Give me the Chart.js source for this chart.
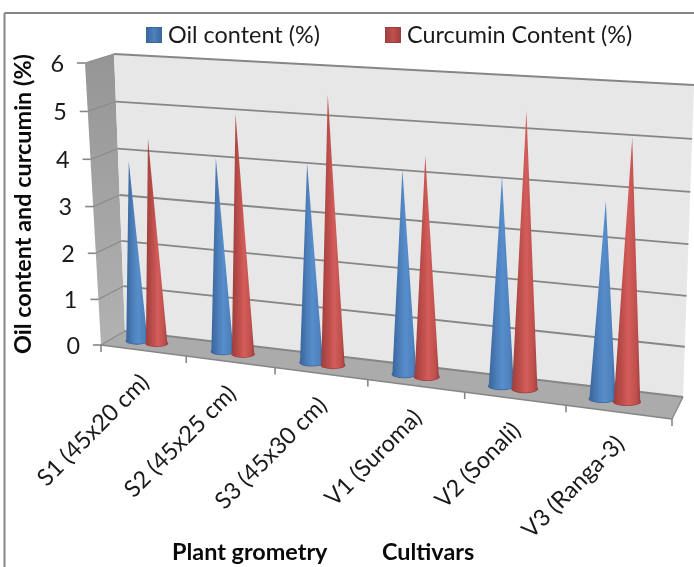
<!DOCTYPE html>
<html>
<head>
<meta charset="utf-8">
<style>html,body{margin:0;padding:0;background:#fff}canvas{display:block}</style>
<script src="https://cdn.jsdelivr.net/npm/chart.js@4"></script>
</head>
<body>
<canvas id="c" width="694" height="567"></canvas>
<script>
const categories = ["S1 (45x20 cm)","S2 (45x25 cm)","S3 (45x30 cm)","V1 (Suroma)","V2 (Sonali)","V3 (Ranga-3)"];
const oilContent = [3.88,4.1,4.14,4.16,4.17,3.87];
const curcuminContent = [4.4,5.04,5.54,4.47,5.47,5.1];
const seriesNames = ["Oil content (%)","Curcumin Content (%)"];
const seriesColors = ["#4F81BD","#C0504D"];
const yTitle = "Oil content and curcumin (%)";
const xTitleParts = ["Plant grometry","Cultivars"];

const FONT = "Lato, Carlito, Calibri, sans-serif";
// corners of the two planes of the box: top-left, top-right, bottom-right, bottom-left
const frontQuad = [[85,63],[678,99],[672,419],[101,345]];
const backQuad  = [[114,54],[694,85],[683,397],[125,331]];
const coneDepth = 0.5;
const coneShift = -0.016;
const coneFatness = 1.08;

function homography(q){
  const [x0,y0]=q[0],[x1,y1]=q[1],[x2,y2]=q[2],[x3,y3]=q[3];
  const dx1=x1-x2,dx2=x3-x2,sx=x0-x1+x2-x3,dy1=y1-y2,dy2=y3-y2,sy=y0-y1+y2-y3;
  const den=dx1*dy2-dx2*dy1;
  const g=(sx*dy2-dx2*sy)/den,h=(dx1*sy-sx*dy1)/den;
  const a=x1-x0+g*x1,b=x3-x0+h*x3,d=y1-y0+g*y1,e=y3-y0+h*y3;
  return (u,v)=>{const w=g*u+h*v+1;return [(a*u+b*v+x0)/w,(d*u+e*v+y0)/w];};
}
function planeAt(t){
  return homography(frontQuad.map((p,i)=>[p[0]+(backQuad[i][0]-p[0])*t,p[1]+(backQuad[i][1]-p[1])*t]));
}
const Hf=planeAt(0),Hb=planeAt(1),Hm=planeAt(coneDepth);
function norm(area,px,py){return [(px-area.left)/(area.right-area.left),(py-area.top)/(area.bottom-area.top)];}
function poly(ctx,pts,fill,stroke,lw){
  ctx.beginPath();pts.forEach((p,i)=>i?ctx.lineTo(p[0],p[1]):ctx.moveTo(p[0],p[1]));ctx.closePath();
  if(fill){ctx.fillStyle=fill;ctx.fill();}
  if(stroke){ctx.strokeStyle=stroke;ctx.lineWidth=lw||1;ctx.stroke();}
}
function line(ctx,a,b,c,lw){ctx.beginPath();ctx.moveTo(a[0],a[1]);ctx.lineTo(b[0],b[1]);ctx.strokeStyle=c;ctx.lineWidth=lw;ctx.stroke();}
function vgrad(ctx,y0,y1,c0,c1){const g=ctx.createLinearGradient(0,y0,0,y1);g.addColorStop(0,c0);g.addColorStop(1,c1);return g;}

function drawBox(chart){
  const ctx=chart.ctx,a=chart.chartArea,ys=chart.scales.y,xs=chart.scales.x;
  ctx.save();
  // outer chart frame
  line(ctx,[4.5,13],[694,13],"#868686",2);
  line(ctx,[4.5,13],[4.5,567],"#868686",2);
  // walls and floor
  poly(ctx,[Hf(0,0),Hb(0,0),Hb(0,1),Hf(0,1)],vgrad(ctx,54,345,"#959595","#B2B2B2"));
  poly(ctx,[Hb(0,0),Hb(1,0),Hb(1,1),Hb(0,1)],"#E7E7E7");
  poly(ctx,[Hf(0,1),Hb(0,1),Hb(1,1),Hf(1,1)],"#ABABAB");
  // gridlines and value ticks
  ys.ticks.forEach((tk,i)=>{
    const v=norm(a,a.left,ys.getPixelForTick(i))[1];
    const f=Hf(0,v),b=Hb(0,v),r=Hb(1,v);
    line(ctx,f,b,"#8C8C8C",1.3);
    line(ctx,b,r,"#868686",1.8);
    line(ctx,[f[0]-8,f[1]],f,"#868686",1.6);
    ctx.font="23.4px "+FONT;ctx.fillStyle="#1A1A1A";ctx.textAlign="right";ctx.textBaseline="middle";
    ctx.fillText(tk.label,f[0]-21,f[1]+1);
  });
  line(ctx,Hf(0,1),Hf(1,1),"#868686",1.6);
  line(ctx,Hf(1,1),Hb(1,1),"#868686",1.3);
  // category ticks and labels
  for(let i=0;i<=categories.length;i++){
    const p=Hf(i/categories.length,1);
    line(ctx,p,[p[0],p[1]+7],"#868686",1.6);
  }
  ctx.font="23.4px "+FONT;ctx.fillStyle="#1A1A1A";ctx.textAlign="right";ctx.textBaseline="middle";
  categories.forEach((c,i)=>{
    const n=norm(a,xs.getPixelForTick(i),a.bottom);
    const p=Hf(n[0],1);
    ctx.save();ctx.translate(p[0]+2,p[1]+28);ctx.rotate(-Math.PI/4);ctx.fillText(xs.getLabelForValue(i),0,0);ctx.restore();
  });
  // axis caption under the categories
  ctx.font="bold 23.4px "+FONT;ctx.fillStyle="#0A0A0A";ctx.textAlign="left";ctx.textBaseline="alphabetic";
  ctx.fillText(xTitleParts[0],172,560);
  ctx.fillText(xTitleParts[1],382,560);
  // legend
  chart.data.datasets.forEach((ds,i)=>{
    const sx=[146,385][i],tx=[168,407][i];
    const g=ctx.createLinearGradient(sx,0,sx+16,0);
    g.addColorStop(0,ds.borderColor);g.addColorStop(.5,ds.backgroundColor);g.addColorStop(1,ds.borderColor);
    ctx.fillStyle=g;ctx.fillRect(sx,27,16,16);
    ctx.strokeStyle=ds.borderColor;ctx.lineWidth=1;ctx.strokeRect(sx+.5,27.5,15,15);
    ctx.font="23.4px "+FONT;ctx.fillStyle="#1A1A1A";ctx.textAlign="left";ctx.textBaseline="middle";
    ctx.fillText(ds.label,tx,35);
  });
  ctx.restore();
}

function drawCones(chart){
  const ctx=chart.ctx,a=chart.chartArea,W=a.right-a.left;
  ctx.save();
  [0,1].forEach(k=>{
    const meta=chart.getDatasetMeta(k),ds=chart.data.datasets[k];
    meta.data.forEach(el=>{
      const u=norm(a,el.x,el.y)[0]+coneShift,vt=norm(a,el.x,el.y)[1],vb=norm(a,el.x,el.base)[1];
      const hw=el.width/2*coneFatness/W;
      const tip=Hm(u,vt);
      const l=Hm(u-hw,vb),r=Hm(u+hw,vb);
      const rx=(r[0]-l[0])/2,ry=rx*0.27;
      const cy=(l[1]+r[1])/2,cx=(l[0]+r[0])/2;
      // rim of the base
      ctx.beginPath();ctx.ellipse(cx,cy,rx+0.8,ry+0.8,0,0,Math.PI*2);ctx.fillStyle=ds.borderColor;ctx.fill();
      // body
      const g=ctx.createLinearGradient(cx-rx,0,cx+rx,0);
      g.addColorStop(0,ds.borderColor);g.addColorStop(.35,ds.backgroundColor);g.addColorStop(.55,ds.hoverBackgroundColor);g.addColorStop(.85,ds.backgroundColor);g.addColorStop(1,ds.borderColor);
      ctx.beginPath();ctx.moveTo(tip[0],tip[1]);ctx.lineTo(cx-rx,cy);
      ctx.ellipse(cx,cy,rx,ry,0,Math.PI,0,true);ctx.closePath();
      ctx.fillStyle=g;ctx.fill();
    });
  });
  ctx.restore();
}

new Chart(document.getElementById("c"),{
  type:"bar",
  data:{labels:categories,datasets:[
    {label:seriesNames[0],data:oilContent,backgroundColor:seriesColors[0],hoverBackgroundColor:"#568DCB",borderColor:"#38659C"},
    {label:seriesNames[1],data:curcuminContent,backgroundColor:seriesColors[1],hoverBackgroundColor:"#D35D5A",borderColor:"#9E3E3C"}
  ]},
  options:{
    responsive:false,animation:false,devicePixelRatio:1,
    layout:{padding:{top:63,left:0,right:22,bottom:0}},
    categoryPercentage:0.47,barPercentage:1,
    plugins:{legend:{display:false},tooltip:{enabled:false}},
    scales:{
      x:{grid:{display:false},border:{display:false},ticks:{display:false},afterFit(s){s.height=222;}},
      y:{min:0,max:6,ticks:{stepSize:1,display:false},grid:{display:false},border:{display:false},
         title:{display:true,text:yTitle,color:"#0A0A0A",font:{family:FONT,size:23.4,weight:"bold"},padding:{top:9,bottom:0}},
         afterFit(s){s.width=101;}}
    }
  },
  plugins:[{
    id:"box3d",
    beforeDatasetsDraw(chart){drawBox(chart);},
    beforeDatasetDraw(){return false;},
    afterDatasetsDraw(chart){drawCones(chart);}
  }]
});
</script>
</body>
</html>
